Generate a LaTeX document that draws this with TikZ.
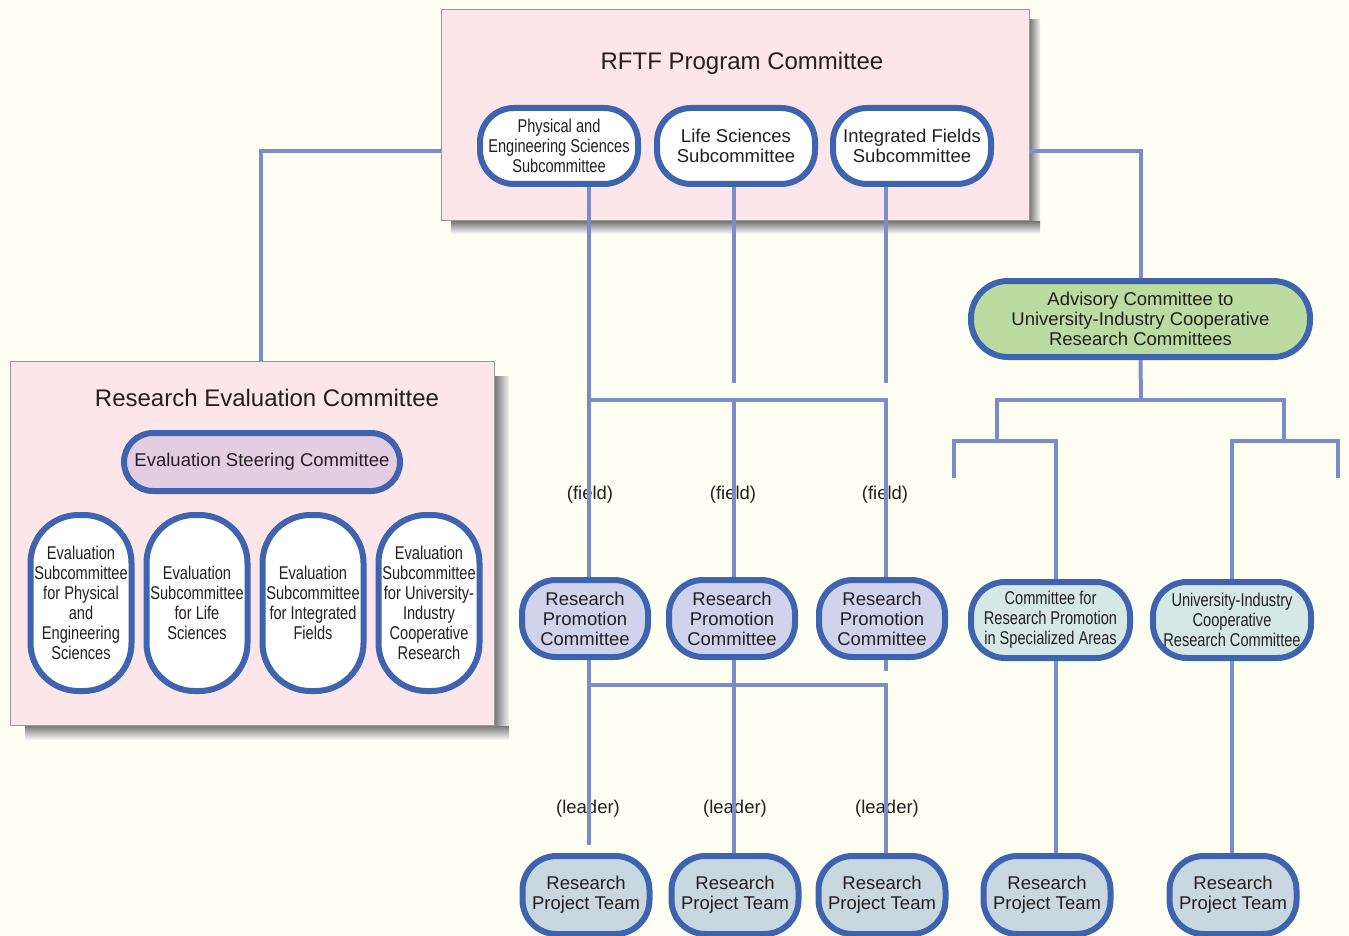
\documentclass[tikz,border=0pt]{standalone}
\usepackage{fontspec}
\setmainfont{Liberation Sans}
\newfontfamily\narrowfam[FakeStretch=0.79]{Liberation Sans}

\definecolor{paper}{RGB}{255,254,242}
\definecolor{panelpink}{RGB}{253,230,233}
\definecolor{unitblue}{RGB}{62,99,175}
\definecolor{linkblue}{RGB}{123,141,200}
\definecolor{ink}{RGB}{35,31,32}
\definecolor{rpclav}{RGB}{208,211,236}
\definecolor{steerlilac}{RGB}{227,205,227}
\definecolor{advgreen}{RGB}{187,219,161}
\definecolor{specteal}{RGB}{213,232,229}
\definecolor{teamgrey}{RGB}{201,215,225}

\newcommand{\txtbody}{\fontsize{18.5}{20}\selectfont}
\newcommand{\txtnarrow}{\narrowfam\fontsize{18.5}{20}\selectfont}
\newcommand{\txttitle}{\fontsize{24}{28}\selectfont}

\tikzset{
  panel/.style={draw=black!40, line width=1pt, fill=panelpink, inner sep=0pt},
  unit/.style={draw=unitblue, line width=6pt, inner sep=0pt, rounded corners=34pt,
    align=center, text=ink, font=\txtbody},
  link/.style={draw=linkblue, line width=4pt},
  tag/.style={text=ink, font=\txtbody, inner sep=0pt},
}

\begin{document}
\begin{tikzpicture}[>=latex,x=1pt,y=-1pt]
\useasboundingbox (0,0) rectangle (1349,936);
\clip (0,0) rectangle (1349,936);
\fill[paper] (0,0) rectangle (1349,936);

% shadows of the two panels
\shade[top color=black!55, bottom color=black!5] (451,221) rectangle (1040,233);
\shade[left color=black!55, right color=black!5] (1029,20) rectangle (1040,221);
\shade[top color=black!55, bottom color=black!5] (25,725) rectangle (509,739);
\shade[left color=black!55, right color=black!5] (494,376) rectangle (509,725);

\node[panel, minimum width=588pt, minimum height=211pt] (rftf) at (735,115.5) {};
\node[panel, minimum width=484pt, minimum height=364pt] (rec) at (252,543) {};

\node[tag, font=\txttitle] (rftft) at (742,63) {RFTF Program Committee};
\node[tag, font=\txttitle] (rect) at (267,398) {Research Evaluation Committee};

% subcommittees of the program committee
\node[unit, fill=white, minimum width=158pt, minimum height=76pt, font=\txtnarrow] (phys) at (559,146) {Physical and\\Engineering Sciences\\Subcommittee};
\node[unit, fill=white, minimum width=158pt, minimum height=76pt] (life) at (736,146) {Life Sciences\\Subcommittee};
\node[unit, fill=white, minimum width=158pt, minimum height=76pt] (integ) at (912,146) {Integrated Fields\\Subcommittee};

% evaluation side
\node[unit, fill=steerlilac, minimum width=276pt, minimum height=58pt, rounded corners=29pt] (steer) at (262,462) {Evaluation Steering Committee};
\node[unit, fill=white, minimum width=101pt, minimum height=176pt, rounded corners=48pt, font=\txtnarrow] (evpe) at (81,603) {Evaluation\\Subcommittee\\for Physical\\and\\Engineering\\Sciences};
\node[unit, fill=white, minimum width=101pt, minimum height=176pt, rounded corners=48pt, font=\txtnarrow] (evls) at (197,603) {Evaluation\\Subcommittee\\for Life\\Sciences};
\node[unit, fill=white, minimum width=101pt, minimum height=176pt, rounded corners=48pt, font=\txtnarrow] (evif) at (313,603) {Evaluation\\Subcommittee\\for Integrated\\Fields};
\node[unit, fill=white, minimum width=101pt, minimum height=176pt, rounded corners=48pt, font=\txtnarrow] (evui) at (429,603) {Evaluation\\Subcommittee\\for University-\\Industry\\Cooperative\\Research};

% advisory side
\node[unit, fill=advgreen, minimum width=339pt, minimum height=76pt, rounded corners=37pt] (adv) at (1140.5,319) {Advisory Committee to\\University-Industry Cooperative\\Research Committees};
\node[unit, fill=specteal, minimum width=159pt, minimum height=76pt, font=\txtnarrow] (crp) at (1050.5,620) {Committee for\\Research Promotion\\in Specialized Areas};
\node[unit, fill=specteal, minimum width=158pt, minimum height=76pt, font=\txtnarrow] (uic) at (1232,620) {University-Industry\\Cooperative\\Research Committee};

\foreach \xp/\nm in {585/rpca,732/rpcb,882/rpcc}{
  \node[unit, fill=rpclav, minimum width=126pt, minimum height=77pt] (\nm) at (\xp,618.5) {Research\\Promotion\\Committee};}
\foreach \xp/\nm in {586/pta,735/ptb,882/ptc,1047/ptd,1233/pte}{
  \node[unit, fill=teamgrey, minimum width=127pt, minimum height=78pt] (\nm) at (\xp,895) {Research\\Project Team};}

\foreach \xp/\nm in {590/fielda,733/fieldb,885/fieldc}{\node[tag] (\nm) at (\xp,495) {(field)};}
\foreach \xp/\nm in {588/leadera,735/leaderb,887/leaderc}{\node[tag] (\nm) at (\xp,809) {(leader)};}

% program committee to the side bodies
\draw[link] (rftf.west |- 0,151) -| (rec.north -| 261,0);
\draw[link] (rftf.east |- 0,151) -| (adv.north);

% subcommittees down to the promotion committees
\coordinate (fja) at (589,400);
\coordinate (fjb) at (734,400);
\coordinate (fjc) at (886,400);
\coordinate (fenb) at (734,383);
\coordinate (fenc) at (886,383);
\draw[link] (phys.south -| fja) -- (rpca.north -| fja);
\draw[link] (life.south -| fjb) -- (fenb);
\draw[link] (integ.south -| fjc) -- (fenc);
\draw[link] (fja) -- (fjc) -- (rpcc.north -| fjc);
\draw[link] (fjb) -- (rpcb.north -| fjb);

% promotion committees down to the project teams
\coordinate (lja) at (589,685);
\coordinate (ljc) at (886,685);
\coordinate (lena) at (589,845);
\coordinate (lenc) at (886,671);
\draw[link] (rpca.south -| lja) -- (lena);
\draw[link] (rpcb.south -| fjb) -- (ptb.north -| fjb);
\draw[link] (rpcc.south -| ljc) -- (lenc);
\draw[link] (lja) -- (ljc) -- (ptc.north -| ljc);

% advisory branch
\coordinate (aj) at (1141,400);
\coordinate (ajl) at (997,400);
\coordinate (ajr) at (1284,400);
\coordinate (tl) at (997,441);
\coordinate (tr) at (1284,441);
\coordinate (stl) at (954,478);
\coordinate (str) at (1338,478);
\draw[link] (adv.south) -- (aj);
\draw[link] (tl) -- (ajl) -- (ajr) -- (tr);
\draw[link] (stl) |- (tl) -| (crp.north -| 1056,0);
\draw[link] (str) |- (tr) -| (uic.north);
\draw[link] (crp.south -| 1056,0) -- (ptd.north -| 1056,0);
\draw[link] (uic.south) -- (uic.south |- pte.north);
\end{tikzpicture}
\end{document}
